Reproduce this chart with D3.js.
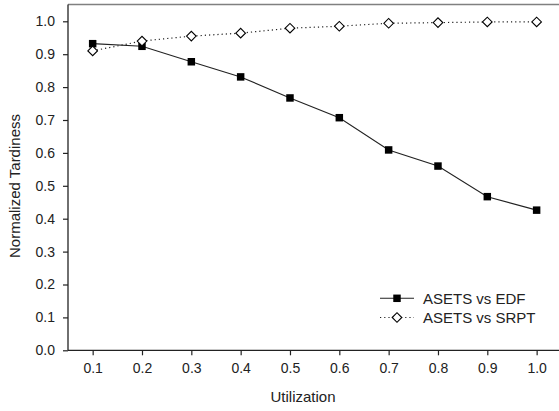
<!DOCTYPE html>
<html><head><meta charset="utf-8">
<script src="https://cdn.jsdelivr.net/npm/d3@7"></script>
<style>body{margin:0;background:#fff}svg{display:block}text{font-family:"Liberation Sans",Arial,sans-serif;fill:#222}</style>
</head><body>
<svg id="c" width="559" height="411"></svg>
<script>
const utilization = [0.1,0.2,0.3,0.4,0.5,0.6,0.7,0.8,0.9,1.0];
const asetsVsEdf = [0.932,0.924,0.877,0.831,0.767,0.707,0.609,0.560,0.467,0.426];
const asetsVsSrpt = [0.910,0.940,0.955,0.964,0.979,0.985,0.994,0.996,0.998,0.998];
const xTicks = [0.1,0.2,0.3,0.4,0.5,0.6,0.7,0.8,0.9,1.0];
const yTicks = [0,0.1,0.2,0.3,0.4,0.5,0.6,0.7,0.8,0.9,1.0];
const seriesNames = ["ASETS vs EDF","ASETS vs SRPT"];

const svg = d3.select("#c");
const left = 68, bottom = 350.3;
const x = d3.scaleLinear().domain([0.05,1.05]).range([68, 561.3]);
const y = d3.scaleLinear().domain([0,1]).range([350.3, 21.3]);

svg.append("line").attr("x1",left).attr("x2",559).attr("y1",4.5).attr("y2",4.5)
  .attr("stroke","#808080").attr("stroke-width",1.5);

const xa = svg.append("g").attr("transform",`translate(0,${bottom})`)
  .call(d3.axisBottom(x).tickValues(xTicks).tickFormat(d3.format(".1f")).tickSize(5).tickPadding(8).tickSizeOuter(0));
const ya = svg.append("g").attr("transform",`translate(${left},0)`)
  .call(d3.axisLeft(y).tickValues(yTicks).tickFormat(d3.format(".1f")).tickSize(5).tickPadding(8).tickSizeOuter(0));
[xa,ya].forEach(a=>{
  a.select(".domain").attr("stroke","#222").attr("stroke-width",1.3);
  a.selectAll(".tick line").attr("stroke","#222").attr("stroke-width",1.2);
  a.selectAll("text").style("font-size","14px").attr("fill","#222");
});
xa.select(".domain").attr("d",`M${left},0H559`);
ya.select(".domain").attr("d",`M0,4.5V${bottom}`);

svg.append("text").attr("x",303).attr("y",402).attr("text-anchor","middle").style("font-size","15px").text("Utilization");
svg.append("text").attr("transform","translate(20,186) rotate(-90)").attr("text-anchor","middle").style("font-size","15px").text("Normalized Tardiness");

const line = d3.line().x((d,i)=>x(utilization[i])).y(d=>y(d));
svg.append("path").datum(asetsVsEdf).attr("d",line).attr("fill","none").attr("stroke","#222").attr("stroke-width",1.1);
svg.append("path").datum(asetsVsSrpt).attr("d",line).attr("fill","none").attr("stroke","#222").attr("stroke-width",1.2).attr("stroke-dasharray","1.2,3");

const sq = d3.symbol().type(d3.symbolSquare).size(56);
const dm = "M-4.8,0L0,-4.8L4.8,0L0,4.8Z";
svg.selectAll(".sq").data(asetsVsEdf).join("path").attr("d",sq)
  .attr("transform",(d,i)=>`translate(${x(utilization[i])},${y(d)})`).attr("fill","#000");
svg.selectAll(".dm").data(asetsVsSrpt).join("path").attr("d",dm)
  .attr("transform",(d,i)=>`translate(${x(utilization[i])},${y(d)})`).attr("fill","#fff").attr("stroke","#000").attr("stroke-width",1.1);

const lg = svg.append("g");
const rows = [{y:298.3, dash:null, sym:sq(), fill:"#000"},{y:317.5, dash:"1.2,3", sym:dm, fill:"#fff"}];
rows.forEach((r,i)=>{
  lg.append("line").attr("x1",380).attr("x2",414).attr("y1",r.y).attr("y2",r.y).attr("stroke","#222").attr("stroke-width",1.1).attr("stroke-dasharray",r.dash);
  lg.append("path").attr("d",r.sym).attr("transform",`translate(397,${r.y})`).attr("fill",r.fill).attr("stroke",i?"#000":null).attr("stroke-width",1.1);
  lg.append("text").attr("x",423).attr("y",r.y+5.5).style("font-size","15px").text(seriesNames[i]);
});
</script>
</body></html>
